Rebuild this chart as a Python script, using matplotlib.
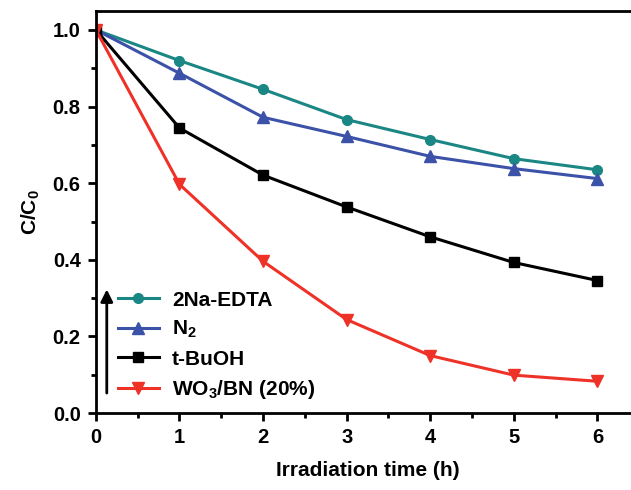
import matplotlib
matplotlib.use('Agg')
import matplotlib.pyplot as plt
from matplotlib.ticker import MultipleLocator

plt.rcParams['font.family'] = ['Liberation Sans', 'DejaVu Sans']
plt.rcParams['font.weight'] = 'bold'
plt.rcParams['mathtext.fontset'] = 'custom'
plt.rcParams['mathtext.rm'] = 'Liberation Sans:bold'
plt.rcParams['mathtext.it'] = 'Liberation Sans:bold'
plt.rcParams['mathtext.bf'] = 'Liberation Sans:bold'
plt.rcParams['mathtext.default'] = 'rm'

hours = [0, 1, 2, 3, 4, 5, 6]
edta = [1.0, 0.920, 0.845, 0.766, 0.714, 0.664, 0.635]
n2 = [1.0, 0.887, 0.772, 0.722, 0.670, 0.638, 0.612]
tbuoh = [1.0, 0.744, 0.621, 0.538, 0.460, 0.393, 0.346]
wo3bn = [1.0, 0.597, 0.396, 0.244, 0.150, 0.099, 0.083]

fig = plt.figure(figsize=(6.31, 4.9), dpi=100)
ax = fig.add_axes([0.152, 0.157, 0.861, 0.821])

ax.plot(hours, edta, color='#1b8784', lw=2.2, marker='o', ms=7, label='2Na-EDTA')
ax.plot(hours, n2, color='#3b52a8', lw=2.2, marker='^', ms=8, label='N$_2$')
ax.plot(hours, tbuoh, color='black', lw=2.2, marker='s', ms=6.5, label='t-BuOH')
ax.plot(hours, wo3bn, color='#ee3227', lw=2.2, marker='v', ms=8, label='WO$_3$/BN (20%)')

ax.set_xlim(0, 6.5)
ax.set_ylim(0, 1.05)
ax.xaxis.set_major_locator(MultipleLocator(1))
ax.xaxis.set_minor_locator(MultipleLocator(0.5))
ax.yaxis.set_major_locator(MultipleLocator(0.2))
ax.yaxis.set_minor_locator(MultipleLocator(0.1))
ax.set_yticklabels([f'{v:.1f}' for v in ax.get_yticks()])
ax.tick_params(which='major', direction='out', length=6, width=2, labelsize=14.5, pad=5)
ax.tick_params(which='minor', direction='out', length=3.5, width=2)
for s in ax.spines.values():
    s.set_linewidth(2)

ax.set_xlabel('Irradiation time (h)', fontsize=15, fontweight='bold', labelpad=10)
ax.set_ylabel('C/C$_0$', fontsize=15, fontweight='bold', labelpad=8)

ax.legend(loc='lower left', bbox_to_anchor=(0.04, 0.03), frameon=False,
          prop={'size': 15, 'weight': 'bold'}, handlelength=2.0, handletextpad=0.6,
          labelspacing=0.45, borderpad=0, borderaxespad=0)
ax.annotate('', xy=(0.13, 0.33), xytext=(0.13, 0.045),
            arrowprops=dict(arrowstyle='-|>', color='black', lw=2, mutation_scale=18))

fig.savefig('out.png', dpi=100)
